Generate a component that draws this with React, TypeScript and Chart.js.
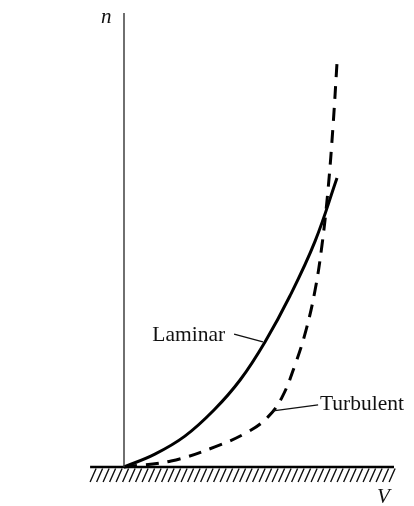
import React, { useEffect, useRef } from "react";
import { Chart, registerables } from "chart.js";

Chart.register(...registerables);

// Velocity V (horizontal) and distance n (vertical), arbitrary units
const laminarV = [0, 1.03, 2.03, 3.0, 3.87, 4.7, 5.53, 6.37, 7.1];
const laminarN = [0, 0.43, 1.03, 1.9, 2.9, 4.17, 5.7, 7.53, 9.63];

const turbulentV = [0, 1.57, 3.03, 4.13, 4.8, 5.27, 5.7, 6.07, 6.37, 6.6, 6.8, 6.97, 7.1];
const turbulentN = [0, 0.2, 0.67, 1.17, 1.67, 2.33, 3.4, 4.57, 5.9, 7.4, 9.23, 11.4, 13.47];

const wallV = [-1.13, 9.0];
const axisN = [0, 15.13];

const labelLaminar = "Laminar";
const labelTurbulent = "Turbulent";
const axisLabelN = "n";
const axisLabelV = "V";

const toPts = (xs: number[], ys: number[]) => xs.map((x, i) => ({ x, y: ys[i] }));

const annotationPlugin = {
  id: "annot",
  afterDatasetsDraw(chart: any) {
    const { ctx, scales } = chart;
    const xs = scales.x;
    const ys = scales.y;
    const px = (v: number) => xs.getPixelForValue(v);
    const py = (v: number) => ys.getPixelForValue(v);
    ctx.save();
    // hatching under the wall
    const g = py(0);
    const x0 = px(wallV[0]);
    const x1 = px(wallV[1]);
    ctx.strokeStyle = "#111";
    ctx.lineWidth = 1.4;
    ctx.beginPath();
    for (let x = x0; x <= x1 - 4; x += 6.5) {
      ctx.moveTo(x + 6, g + 1.5);
      ctx.lineTo(x, g + 15);
    }
    ctx.stroke();
    // leader lines
    ctx.lineWidth = 1.4;
    ctx.beginPath();
    ctx.moveTo(px(3.67), py(4.43));
    ctx.lineTo(px(4.63), py(4.17));
    ctx.moveTo(px(6.47), py(2.07));
    ctx.lineTo(px(4.97), py(1.87));
    ctx.stroke();
    // text
    ctx.fillStyle = "#111";
    ctx.textBaseline = "alphabetic";
    ctx.font = '21.5px "Liberation Serif", serif';
    ctx.textAlign = "right";
    ctx.fillText(labelLaminar, px(3.37), py(4.2));
    ctx.textAlign = "left";
    ctx.fillText(labelTurbulent, px(6.53), py(1.9));
    ctx.font = 'italic 21px "Liberation Serif", serif';
    ctx.fillText(axisLabelN, px(-0.77), py(14.8));
    ctx.fillText(axisLabelV, px(8.43), py(-1.2));
    ctx.restore();
  },
};

export default function App() {
  const ref = useRef<HTMLCanvasElement | null>(null);
  useEffect(() => {
    if (!ref.current) return;
    const chart = new Chart(ref.current, {
      type: "scatter",
      data: {
        datasets: [
          {
            label: "axis",
            data: toPts([0, 0], axisN),
            showLine: true,
            borderColor: "#333",
            borderWidth: 1.4,
            pointRadius: 0,
          },
          {
            label: labelLaminar,
            data: toPts(laminarV, laminarN),
            showLine: true,
            borderColor: "#000",
            borderWidth: 3,
            pointRadius: 0,
            tension: 0.4,
          },
          {
            label: labelTurbulent,
            data: toPts(turbulentV, turbulentN),
            showLine: true,
            borderColor: "#000",
            borderWidth: 3,
            borderDash: [13, 9],
            pointRadius: 0,
            tension: 0.4,
          },
          {
            label: "wall",
            data: toPts(wallV, [0, 0]),
            showLine: true,
            borderColor: "#000",
            borderWidth: 2.5,
            pointRadius: 0,
          },
        ],
      },
      options: {
        responsive: false,
        animation: false,
        layout: { padding: { left: 88, right: 20, top: 11, bottom: 39 } },
        plugins: { legend: { display: false }, tooltip: { enabled: false } },
        elements: { line: { fill: false } },
        datasets: { scatter: { clip: false } as any },
        scales: {
          x: { type: "linear", min: -1.2, max: 9.0, display: false },
          y: { type: "linear", min: 0, max: 15.2, display: false },
        },
      },
      plugins: [annotationPlugin],
    });
    return () => chart.destroy();
  }, []);
  return (
    <div style={{ position: "absolute", left: 0, top: 0, width: 414, height: 506, background: "#fff" }}>
      <canvas ref={ref} width={414} height={506} />
    </div>
  );
}
